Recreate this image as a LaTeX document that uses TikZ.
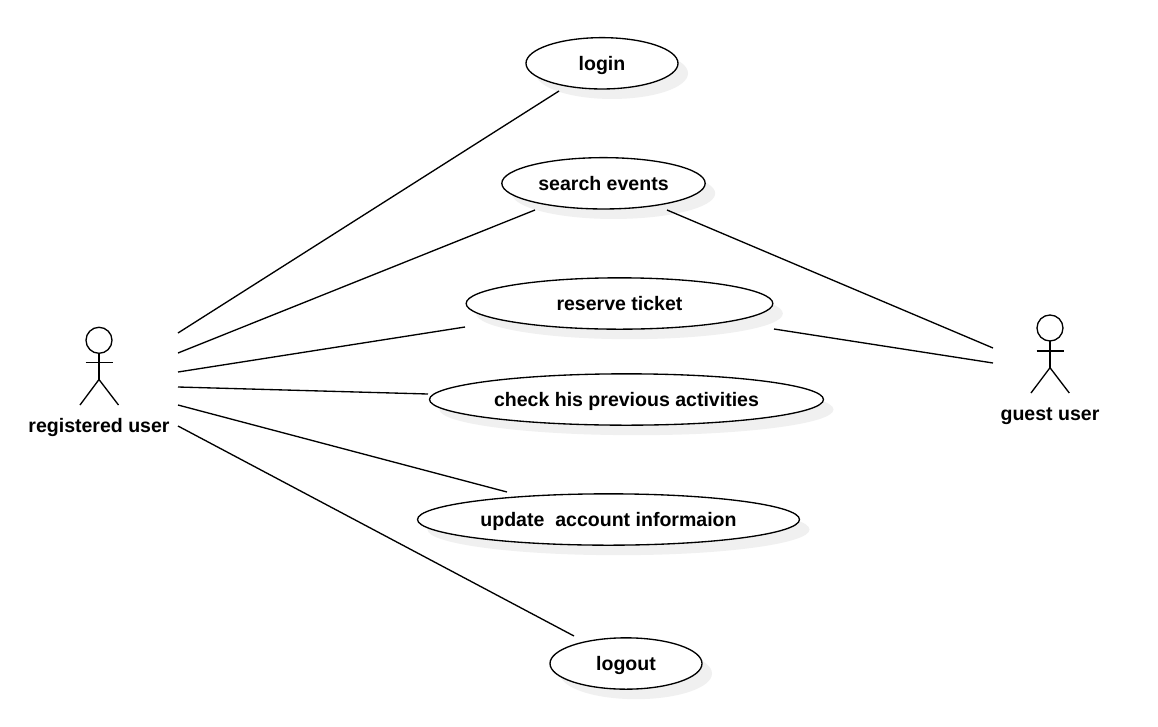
\documentclass[tikz,border=0pt]{standalone}
\usepackage{fontspec}
\setmainfont{Liberation Sans}
\usetikzlibrary{shapes.geometric,shadows}
\definecolor{shadowgrey}{HTML}{F0F0F0}
\tikzset{
  px/.style={x=0.75pt,y=-0.75pt},
  usecase/.style={ellipse,draw=black,fill=white,line width=1pt,inner sep=0pt,outer sep=0pt,
    minimum height=38.5pt,text height=13.5pt,text depth=3pt,font=\bfseries\fontsize{14.65}{18}\selectfont,
    drop shadow={shadow xshift=7.5pt,shadow yshift=-7.5pt,fill=shadowgrey,opacity=1}},
  actorlabel/.style={inner sep=0pt,text height=13.5pt,text depth=3pt,font=\bfseries\fontsize{14.65}{18}\selectfont},
  actorline/.style={draw=black,line width=1pt},
  assoc/.style={draw=black,line width=1pt}
}
\begin{document}
\begin{tikzpicture}[px]
\useasboundingbox (0,0) rectangle (1158,726);
\fill[white] (0,0) rectangle (1158,726);
% use cases
\node[usecase,minimum width=114pt] (login) at (602,63.3) {login};
\node[usecase,minimum width=152.5pt] (search) at (603.5,183.3) {search events};
\node[usecase,minimum width=230pt] (reserve) at (619.5,303.5) {reserve ticket};
\node[usecase,minimum width=295.5pt] (check) at (626.5,399.5) {check his previous activities};
\node[usecase,minimum width=286.5pt] (update) at (608.5,519.5) {update\ \ account informaion};
\node[usecase,minimum width=114pt] (logout) at (626,663.5) {logout};
% registered user
\node[circle,draw=black,line width=1pt,minimum size=19.5pt,inner sep=0pt,outer sep=0pt] (rhead) at (99,340.3) {};
\coordinate (rhip) at (99,379.5);
\coordinate (rarml) at (85.5,362.7);
\coordinate (rarmr) at (112.5,362.7);
\coordinate (rlegl) at (80,405);
\coordinate (rlegr) at (118.5,405);
\draw[actorline] (rhead.south) -- (rhip);
\draw[actorline] (rarml) -- (rarmr);
\draw[actorline] (rlegl) -- (rhip) -- (rlegr);
\node[actorlabel] (rlabel) at (99,425.7) {registered user};
% guest user
\node[circle,draw=black,line width=1pt,minimum size=19.5pt,inner sep=0pt,outer sep=0pt] (ghead) at (1050,328) {};
\coordinate (ghip) at (1050,367.7);
\coordinate (garml) at (1036.5,351);
\coordinate (garmr) at (1063.5,351);
\coordinate (glegl) at (1031,393);
\coordinate (glegr) at (1069.3,393);
\draw[actorline] (ghead.south) -- (ghip);
\draw[actorline] (garml) -- (garmr);
\draw[actorline] (glegl) -- (ghip) -- (glegr);
\node[actorlabel] (glabel) at (1050,413.7) {guest user};
% connector ends
\coordinate (r1) at (178,333);
\coordinate (r2) at (178,353);
\coordinate (r3) at (178,372);
\coordinate (r4) at (178,387);
\coordinate (r5) at (178,405);
\coordinate (r6) at (178,426);
\coordinate (g1) at (993,348);
\coordinate (g2) at (993,363);
\coordinate (loginend) at (559,91);
\coordinate (searchendl) at (535,210);
\coordinate (searchendr) at (667,210);
\coordinate (reserveendl) at (465,327);
\coordinate (reserveendr) at (774,329);
\coordinate (checkend) at (428,394);
\coordinate (updateend) at (507,492);
\coordinate (logoutend) at (574,636);
% connectors
\draw[assoc] (r1) -- (loginend);
\draw[assoc] (r2) -- (searchendl);
\draw[assoc] (r3) -- (reserveendl);
\draw[assoc] (r4) -- (checkend);
\draw[assoc] (r5) -- (updateend);
\draw[assoc] (r6) -- (logoutend);
\draw[assoc] (g1) -- (searchendr);
\draw[assoc] (g2) -- (reserveendr);
\end{tikzpicture}
\end{document}
